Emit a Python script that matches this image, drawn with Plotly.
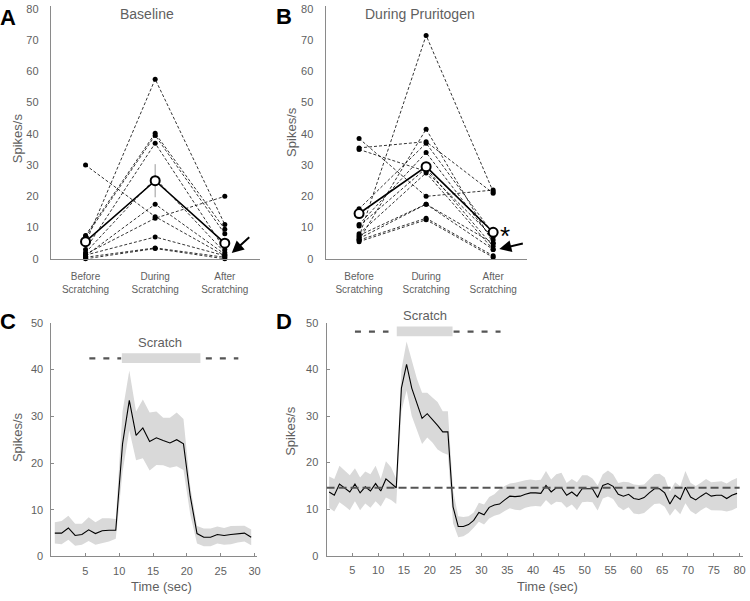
import plotly.graph_objects as go

W, H = 750, 601


def fx(x):
    return x / W


def fy(y):
    return 1 - y / H


# ---------------- data ----------------
categories = ["Before<br>Scratching", "During<br>Scratching", "After<br>Scratching"]
cat_pos = [0, 1, 2]

# Panel A: baseline, individual neurons
base_before = [30, 1.5, 5, 7.5, 7, 3, 2, 1, 1.2, 0.5, 0]
base_during = [13.5, 13, 57.5, 40.2, 39.5, 37, 25.8, 17.5, 7, 3.5, 3.3]
base_after = [1, 20, 11, 9.5, 8, 3, 2, 1.5, 1, 0.5, 0]
base_mean = [5.5, 25, 5]
base_sem = [0.8, 5.3, 0.8]

# Panel B: during pruritogen, individual neurons
prur_before = [38.5, 35.5, 35, 7, 6, 16, 11, 10.5, 8, 7.5, 6.5, 6, 5.5]
prur_during = [20, 37.5, 28, 71.5, 41.5, 37, 34, 29, 27.5, 17.5, 17.5, 13, 12.5]
prur_after = [22, 21, 7, 21.5, 5, 8, 6, 4, 3, 5, 3, 1, 0.5]
prur_mean = [14.5, 29.5, 8.5]
prur_sem = [1.5, 1.5, 1.0]

# Panel C: baseline scratch PSTH
c_time = [0.5, 1.5, 2.5, 3.5, 4.5, 5.5, 6.5, 7.5, 8.5, 9.5,
          10.5, 11.5, 12.5, 13.5, 14.5, 15.5, 16.5, 17.5, 18.5, 19.5,
          20.5, 21.5, 22.5, 23.5, 24.5, 25.5, 26.5, 27.5, 28.5, 29.5]
c_mean = [5.0, 5.0, 6.1, 4.5, 4.7, 5.7, 4.9, 5.5, 5.6, 5.6,
          24.1, 33.4, 25.9, 27.5, 24.6, 25.4, 24.8, 24.3, 25.0, 24.1,
          12.9, 4.9, 4.1, 4.1, 4.7, 4.5, 4.7, 4.8, 5.0, 4.1]
c_upper = [7.3, 7.6, 8.7, 7.0, 7.0, 8.4, 7.3, 8.2, 8.2, 8.0,
           31.0, 39.8, 31.0, 33.6, 30.8, 31.0, 29.7, 29.7, 30.8, 29.4,
           15.0, 6.5, 6.0, 6.0, 6.4, 6.1, 6.5, 6.6, 6.6, 5.8]
c_lower = [2.8, 2.6, 3.6, 2.3, 2.5, 3.3, 2.5, 2.8, 3.2, 3.8,
           18.0, 27.0, 20.6, 21.0, 18.4, 19.6, 19.5, 19.0, 19.3, 18.5,
           9.0, 2.8, 2.2, 2.2, 2.8, 2.5, 2.6, 3.0, 3.2, 2.4]

# Panel D: pruritogen scratch PSTH
d_time = [0.5, 1.5, 2.5, 3.5, 4.5, 5.5, 6.5, 7.5, 8.5, 9.5,
          10.5, 11.5, 12.5, 13.5, 14.5, 15.5, 16.5, 17.5, 18.5, 19.5,
          20.5, 21.5, 22.5, 23.5, 24.5, 25.5, 26.5, 27.5, 28.5, 29.5,
          30.5, 31.5, 32.5, 33.5, 34.5, 35.5, 36.5, 37.5, 38.5, 39.5,
          40.5, 41.5, 42.5, 43.5, 44.5, 45.5, 46.5, 47.5, 48.5, 49.5,
          50.5, 51.5, 52.5, 53.5, 54.5, 55.5, 56.5, 57.5, 58.5, 59.5,
          60.5, 61.5, 62.5, 63.5, 64.5, 65.5, 66.5, 67.5, 68.5, 69.5,
          70.5, 71.5, 72.5, 73.5, 74.5, 75.5, 76.5, 77.5, 78.5, 79.5]
d_mean = [13.7, 13.0, 15.4, 14.6, 13.7, 15.4, 13.5, 14.8, 13.9, 15.5,
          13.9, 16.5, 15.6, 14.6, 36.0, 41.1, 36.0, 32.5, 29.5, 30.5,
          29.3, 28.0, 26.6, 26.6, 10.5, 6.3, 6.3, 6.7, 7.6, 9.3,
          8.8, 10.4, 10.9, 11.1, 12.0, 12.8, 12.7, 12.8, 13.2, 13.5,
          13.5, 13.4, 15.1, 13.7, 14.6, 14.6, 13.0, 13.7, 12.8, 14.4,
          14.4, 14.4, 12.5, 15.1, 15.5, 14.9, 13.2, 12.8, 13.2, 12.3,
          12.1, 12.5, 13.5, 14.4, 14.4, 13.5, 11.1, 13.0, 12.1, 14.7,
          12.6, 12.0, 12.8, 13.5, 12.8, 13.0, 13.0, 12.3, 13.0, 13.4]
d_upper = [17.0, 16.5, 19.3, 18.3, 17.3, 18.8, 16.8, 18.1, 17.5, 19.3,
           16.5, 20.3, 19.0, 16.5, 40.0, 46.0, 42.0, 38.0, 35.0, 35.0,
           34.0, 33.0, 31.0, 31.0, 14.0, 8.5, 8.3, 8.5, 9.3, 11.4,
           11.0, 12.6, 13.2, 14.3, 15.0, 15.5, 15.7, 16.0, 16.2, 16.4,
           16.2, 16.3, 18.2, 16.4, 17.5, 17.8, 15.6, 16.5, 15.8, 17.3,
           17.3, 16.6, 15.1, 17.5, 18.3, 17.5, 15.6, 15.9, 15.8, 15.3,
           15.2, 15.3, 16.5, 17.5, 17.6, 16.8, 13.8, 15.8, 14.9, 18.2,
           15.7, 15.0, 15.7, 16.5, 15.8, 15.9, 16.0, 15.5, 16.2, 16.7]
d_lower = [10.3, 9.5, 11.5, 10.7, 9.8, 11.7, 9.8, 11.2, 10.3, 11.7,
           10.6, 12.5, 12.0, 11.1, 31.0, 35.5, 30.0, 27.0, 24.0, 25.4,
           24.3, 22.8, 22.1, 21.7, 7.0, 4.0, 4.2, 4.9, 6.0, 7.3,
           6.7, 8.0, 8.6, 8.9, 9.6, 10.2, 9.9, 9.8, 10.3, 10.6,
           10.7, 10.6, 12.0, 10.9, 11.6, 11.5, 10.3, 11.0, 9.8, 11.5,
           11.6, 11.5, 9.7, 12.3, 12.7, 12.2, 10.5, 9.8, 10.4, 9.1,
           8.9, 9.2, 10.2, 11.1, 11.2, 10.5, 8.6, 10.1, 8.9, 11.3,
           9.6, 8.9, 9.8, 10.4, 9.8, 9.8, 9.7, 9.5, 9.8, 10.3]
d_baseline = 14.6

# scratch-period markers (x in sec, y in spikes/s)
c_scratch = [10.4, 22.0]
c_pre_dash = [5.6, 10.3]
c_post_dash = [22.8, 27.6]
c_bar_y = [41.4, 43.5]
c_dash_y = 42.4
d_scratch = [13.6, 24.4]
d_pre_dash = [5.5, 12.0]
d_post_dash = [24.6, 33.7]
d_bar_y = [47.1, 49.2]
d_dash_y = 48.1

# ---------------- figure ----------------
GRAY_TXT = "#5f5f5f"
AX_COL = "#8a8a8a"
BAND = "#d9d9d9"
FONT = "Liberation Sans, Arial, sans-serif"

fig = go.Figure()


def add_pair_panel(xa, ya, before, during, after, mean, sem):
    for b, d, a in zip(before, during, after):
        fig.add_trace(go.Scatter(
            x=cat_pos, y=[b, d, a], xaxis=xa, yaxis=ya, mode="lines+markers",
            line=dict(color="black", width=0.8, dash="3px,2px"),
            marker=dict(color="black", size=5), cliponaxis=False,
            showlegend=False, hoverinfo="skip"))
    fig.add_trace(go.Scatter(
        x=cat_pos, y=mean, xaxis=xa, yaxis=ya, mode="lines+markers",
        line=dict(color="black", width=1.6),
        marker=dict(color="white", size=9, line=dict(color="black", width=2)),
        error_y=dict(type="data", array=sem, color="#9a9a9a", thickness=1, width=0),
        cliponaxis=False, showlegend=False, hoverinfo="skip"))


add_pair_panel("x", "y", base_before, base_during, base_after, base_mean, base_sem)
add_pair_panel("x2", "y2", prur_before, prur_during, prur_after, prur_mean, prur_sem)


def add_psth(xa, ya, t, m, up, lo):
    fig.add_trace(go.Scatter(
        x=t + t[::-1], y=up + lo[::-1], xaxis=xa, yaxis=ya, fill="toself",
        fillcolor=BAND, line=dict(width=0), mode="lines",
        showlegend=False, hoverinfo="skip"))
    fig.add_trace(go.Scatter(
        x=t, y=m, xaxis=xa, yaxis=ya, mode="lines",
        line=dict(color="black", width=1.1), showlegend=False, hoverinfo="skip"))


add_psth("x3", "y3", c_time, c_mean, c_upper, c_lower)
add_psth("x4", "y4", d_time, d_mean, d_upper, d_lower)

# baseline dashed line in D
fig.add_shape(type="line", xref="x4", yref="y4", x0=0, x1=80, y0=d_baseline, y1=d_baseline,
              line=dict(color="#555555", width=2, dash="8px,4px"))

# scratch bars
for xr, yr, sc, pre, post, by, dy in [
        ("x3", "y3", c_scratch, c_pre_dash, c_post_dash, c_bar_y, c_dash_y),
        ("x4", "y4", d_scratch, d_pre_dash, d_post_dash, d_bar_y, d_dash_y)]:
    fig.add_shape(type="rect", xref=xr, yref=yr, x0=sc[0], x1=sc[1], y0=by[0], y1=by[1],
                  fillcolor=BAND, line=dict(width=0))
    for seg in (pre, post):
        fig.add_shape(type="line", xref=xr, yref=yr, x0=seg[0], x1=seg[1], y0=dy, y1=dy,
                      line=dict(color="#555555", width=2.2, dash="6px,8px"))

tickfont = dict(family=FONT, size=11, color=GRAY_TXT)
catfont = dict(family=FONT, size=10, color=GRAY_TXT)


def yax(top_px, bot_px, rng, tv, ticks="", standoff=9):
    return dict(domain=[fy(bot_px), fy(top_px)], range=rng, tickvals=tv,
                showline=True, linecolor=AX_COL, linewidth=1, showgrid=False,
                zeroline=False, ticks=ticks, ticklen=3, tickcolor=AX_COL,
                tickfont=tickfont, ticklabelstandoff=standoff, fixedrange=True,
                ticklabeloverflow="allow")


def xax(l_px, r_px, rng, tv, tt=None, anchor="y", ticks="", standoff=4, font=tickfont):
    d = dict(domain=[fx(l_px), fx(r_px)], range=rng, tickvals=tv, anchor=anchor,
             showline=True, linecolor=AX_COL, linewidth=1, showgrid=False,
             zeroline=False, ticks=ticks, ticklen=3, tickcolor=AX_COL,
             tickfont=font, ticklabelstandoff=standoff, fixedrange=True,
             ticklabeloverflow="allow")
    if tt is not None:
        d["ticktext"] = tt
    return d


fig.update_layout(
    width=W, height=H, margin=dict(l=0, r=0, t=0, b=0),
    plot_bgcolor="white", paper_bgcolor="white",
    font=dict(family=FONT, color=GRAY_TXT),
    xaxis=xax(51, 261, [-0.5, 2.5], cat_pos, categories, anchor="y", standoff=8, font=catfont),
    yaxis=dict(yax(0, 258, [0, 80.9], [0, 10, 20, 30, 40, 50, 60, 70, 80]), anchor="x"),
    xaxis2=xax(327.3, 529.5, [-0.5, 2.5], cat_pos, categories, anchor="y2", standoff=8, font=catfont),
    yaxis2=dict(yax(0, 258, [0, 80.9], [0, 10, 20, 30, 40, 50, 60, 70, 80]), anchor="x2"),
    xaxis3=xax(51.7, 258, [0, 30.3], [5, 10, 15, 20, 25, 30], anchor="y3", ticks="inside"),
    yaxis3=dict(yax(323.3, 561.7, [0, 50], [0, 10, 20, 30, 40, 50], ticks="inside", standoff=5),
                anchor="x3"),
    xaxis4=xax(328.3, 746.7, [0, 80.6], [5, 10, 15, 20, 25, 30, 35, 40, 45, 50, 55, 60, 65, 70, 75, 80],
               anchor="y4", ticks="inside"),
    yaxis4=dict(yax(323.3, 561, [0, 50], [0, 10, 20, 30, 40, 50], ticks="inside", standoff=5),
                anchor="x4"),
)


def ann(text, x, y, size, color=GRAY_TXT, bold=False, angle=0):
    fig.add_annotation(text=("<b>%s</b>" % text) if bold else text,
                       x=fx(x), y=fy(y), xref="paper", yref="paper",
                       showarrow=False, textangle=angle,
                       font=dict(family=FONT, size=size, color=color),
                       xanchor="center", yanchor="middle")


# panel letters
ann("A", 8, 12, 22, color="black", bold=True)
ann("B", 286, 11, 22, color="black", bold=True)
ann("C", 8, 322, 22, color="black", bold=True)
ann("D", 286, 322, 22, color="black", bold=True)

# titles
ann("Baseline", 148, 8, 14)
ann("During Pruritogen", 422, 8, 14)

# y axis titles
ann("Spikes/s", 17, 135, 13, angle=-90)
ann("Spikes/s", 293, 128, 13, angle=-90)
ann("Spikes/s", 17, 440, 13, angle=-90)
ann("Spikes/s", 292, 433, 13, angle=-90)

# x axis titles
ann("Time (sec)", 162, 592, 13)
ann("Time (sec)", 550, 592, 13)

# scratch labels
ann("Scratch", 161, 343, 13)
ann("Scratch", 427, 316, 13)

# asterisk
ann("*", 508, 235, 26, color="black")

# arrows
fig.add_annotation(x=fx(233), y=fy(252), xref="paper", yref="paper", ax=19, ay=-17,
                   showarrow=True, arrowhead=2, arrowsize=1.2, arrowwidth=2, arrowcolor="black", text="")
fig.add_annotation(x=fx(502), y=fy(248), xref="paper", yref="paper", ax=25, ay=-6,
                   showarrow=True, arrowhead=2, arrowsize=1.2, arrowwidth=2, arrowcolor="black", text="")

fig.write_html("out.html", config={"displayModeBar": False},
               post_script="document.body.style.margin='0px';")
